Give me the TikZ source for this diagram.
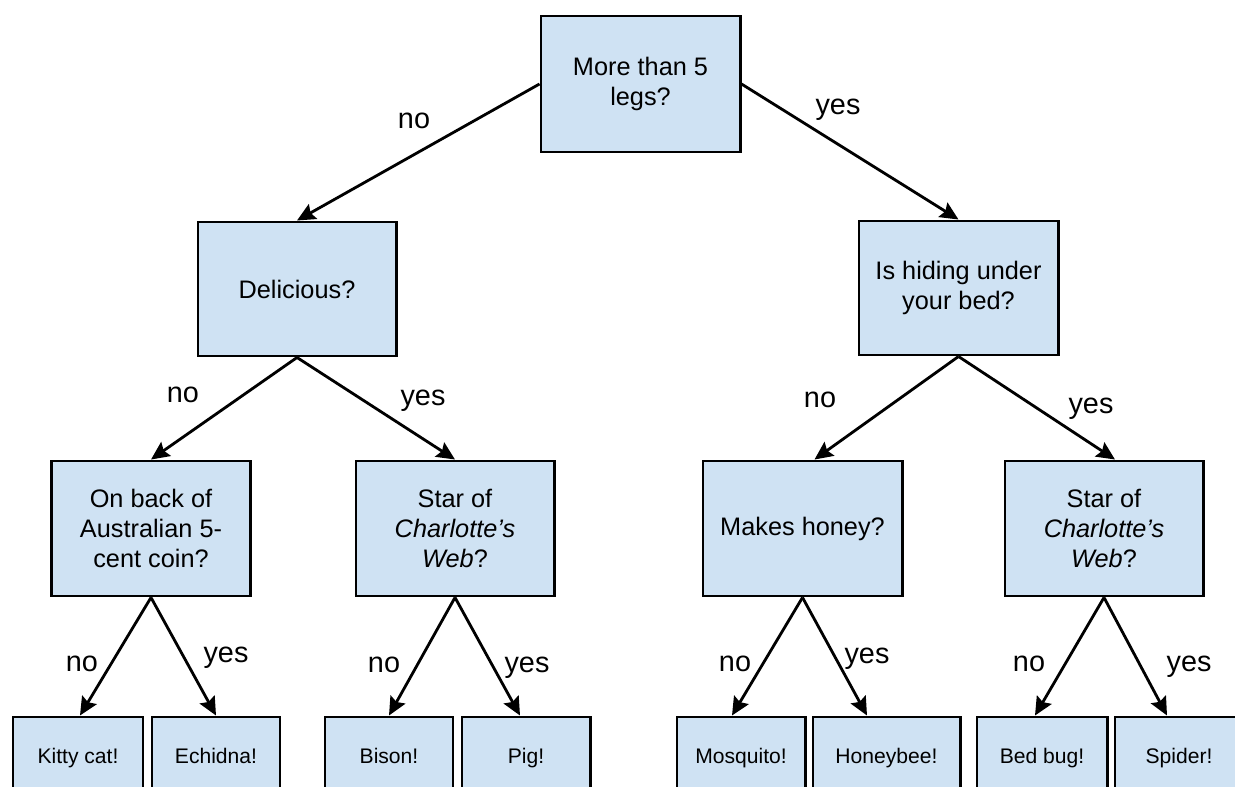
\documentclass[tikz,border=0pt]{standalone}
\usepackage{fontspec}
\setmainfont{Liberation Sans}
\usetikzlibrary{arrows.meta,calc}
\definecolor{boxfill}{HTML}{CFE2F3}
\begin{document}
\begin{tikzpicture}[x=0.025cm,y=-0.025cm,
  qbox/.style={draw=black, line width=2.1pt, fill=boxfill, rectangle, align=center,
    font=\fontsize{18}{21.5}\selectfont, inner sep=0pt, minimum width=4.95cm, minimum height=3.375cm},
  leafbox/.style={draw=black, line width=2.1pt, fill=boxfill, rectangle, align=center,
    font=\fontsize{15}{18}\selectfont, inner sep=0pt, text height=11pt, text depth=1pt,
    minimum width=3.2cm, minimum height=1.95cm},
  arr/.style={line width=2pt, -{Stealth[length=13pt,width=12pt,inset=2pt]}},
  lbl/.style={anchor=base, font=\fontsize{20.5}{24}\selectfont, inner sep=0pt}]
\useasboundingbox (0,0) rectangle (1235,787);
\clip (0,0) rectangle (1235,787);

% question nodes
\node[qbox, minimum width=4.975cm, minimum height=3.4cm] (top) at (640.5,84) {More than 5\\legs?};
\node[qbox, minimum height=3.35cm] (del) at (297,289) {Delicious?};
\node[qbox, minimum width=4.975cm, minimum height=3.35cm] (hide) at (958.5,288) {Is hiding under\\your bed?};
\node[qbox] (back) at (151,528.5) {On back of\\Australian 5-\\cent coin?};
\node[qbox] (starL) at (455,528.5) {Star of\\\textit{Charlotte's}\\\textit{Web}?};
\node[qbox, minimum width=4.975cm] (honey) at (802.5,528.5) {Makes honey?};
\node[qbox] (starR) at (1104,528.5) {Star of\\\textit{Charlotte's}\\\textit{Web}?};

% leaves
\node[leafbox, minimum width=3.25cm] (kitty) at (78,756) {Kitty cat!};
\node[leafbox] (echidna) at (216,756) {Echidna!};
\node[leafbox] (bison) at (389,756) {Bison!};
\node[leafbox] (pig) at (526,756) {Pig!};
\node[leafbox] (mosq) at (741,756) {Mosquito!};
\node[leafbox, minimum width=3.675cm] (honeybee) at (886.5,756) {Honeybee!};
\node[leafbox, minimum width=3.25cm] (bedbug) at (1042,756) {Bed bug!};
\node[leafbox] (spider) at (1179,756) {Spider!};

% connectors
\draw[arr] (top.west) -- (del.north);
\draw[arr] (top.east) -- (hide.north);
\draw[arr] (del.south) -- (back.north);
\draw[arr] (del.south) -- (starL.north);
\draw[arr] (hide.south) -- ($(honey.north)+(12,0)$);
\draw[arr] (hide.south) -- ($(starR.north)+(11,0)$);
\draw[arr] (back.south) -- ($(kitty.north)+(2,0)$);
\draw[arr] (back.south) -- (echidna.north);
\draw[arr] (starL.south) -- (bison.north);
\draw[arr] (starL.south) -- ($(pig.north)+(-6,0)$);
\draw[arr] (honey.south) -- ($(mosq.north)+(-9,0)$);
\draw[arr] (honey.south) -- ($(honeybee.north)+(-19.5,0)$);
\draw[arr] (starR.south) -- ($(bedbug.north)+(-7,0)$);
\draw[arr] (starR.south) -- ($(spider.north)+(-12,0)$);

% labels
\node[lbl] (l1) at (414,129) {no};
\node[lbl] (l2) at (838,115) {yes};
\node[lbl] (l3) at (183,402) {no};
\node[lbl] (l4) at (423,405) {yes};
\node[lbl] (l5) at (820,407) {no};
\node[lbl] (l6) at (1091,413) {yes};
\node[lbl] (l7) at (82,671) {no};
\node[lbl] (l8) at (226,662) {yes};
\node[lbl] (l9) at (384,672) {no};
\node[lbl] (l10) at (527,672) {yes};
\node[lbl] (l11) at (735,671) {no};
\node[lbl] (l12) at (867,663) {yes};
\node[lbl] (l13) at (1029,671) {no};
\node[lbl] (l14) at (1189,671) {yes};
\end{tikzpicture}
\end{document}
